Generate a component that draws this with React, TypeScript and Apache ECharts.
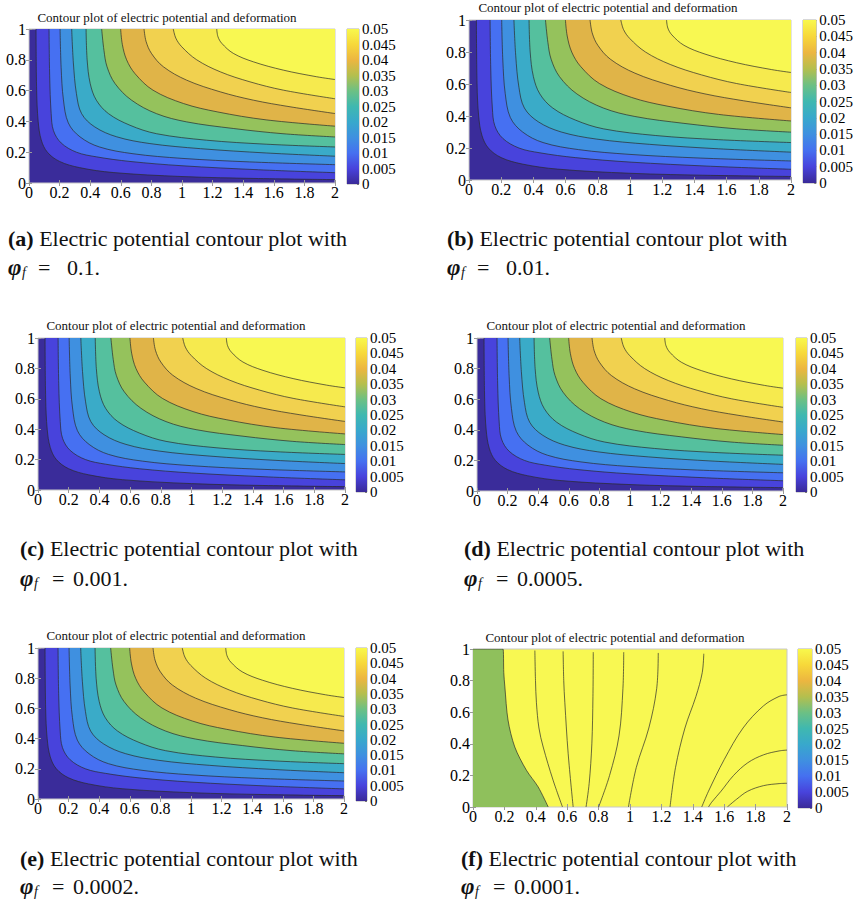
import React, { useEffect, useRef } from 'react';
import * as echarts from 'echarts';

// ---------- DATA ----------
const levels = [0.005, 0.01, 0.015, 0.02, 0.025, 0.03, 0.035, 0.04, 0.045, 0.05];
const bandColors = ['#3a2c9a', '#4843dc', '#4670f2', '#3f90e0', '#3aabc8', '#55c09e', '#95c25c', '#e0b448', '#f1d14f', '#f6ea4e', '#f8f852'];
const colorbarStops = ['#3a2a98', '#4843dc', '#4570f0', '#3f90e0', '#38a8cc', '#3fb8b0', '#6cc084', '#b4bf4e', '#ecb640', '#f7d83a', '#f8f84c'];

// contour lines (x, y) shared by panels a–e, one per level
const contour005 = [[0.046, 1], [0.05, 0.6], [0.06, 0.4], [0.08, 0.28], [0.12, 0.2], [0.2, 0.14], [0.33, 0.1], [0.55, 0.068], [1.0, 0.042], [1.5, 0.029], [2, 0.022]];
const contour010 = [[0.131, 1], [0.135, 0.7], [0.145, 0.45], [0.16, 0.34], [0.21, 0.26], [0.31, 0.2], [0.44, 0.17], [0.66, 0.14], [1.0, 0.112], [1.5, 0.086], [2, 0.067]];
const contour015 = [[0.203, 1], [0.21, 0.75], [0.225, 0.54], [0.257, 0.39], [0.333, 0.3], [0.46, 0.234], [0.68, 0.19], [1.0, 0.16], [1.44, 0.137], [2, 0.119]];
const contour020 = [[0.279, 1], [0.29, 0.78], [0.31, 0.58], [0.344, 0.45], [0.43, 0.364], [0.573, 0.3], [0.79, 0.256], [1.12, 0.223], [1.55, 0.195], [2, 0.174]];
const contour025 = [[0.373, 1], [0.38, 0.8], [0.4, 0.646], [0.44, 0.538], [0.52, 0.45], [0.66, 0.375], [0.834, 0.32], [1.16, 0.278], [1.55, 0.252], [2, 0.234]];
const contour030 = [[0.475, 1], [0.49, 0.86], [0.51, 0.755], [0.562, 0.646], [0.67, 0.538], [0.834, 0.45], [1.03, 0.397], [1.335, 0.354], [1.66, 0.32], [2, 0.299]];
const contour035 = [[0.599, 1], [0.61, 0.9], [0.638, 0.8], [0.693, 0.71], [0.81, 0.603], [1.01, 0.516], [1.23, 0.462], [1.55, 0.41], [2, 0.369]];
const contour040 = [[0.752, 1], [0.765, 0.92], [0.8, 0.842], [0.878, 0.755], [1.03, 0.668], [1.25, 0.592], [1.466, 0.538], [1.706, 0.495], [2, 0.451]];
const contour045 = [[0.943, 1], [0.96, 0.94], [0.998, 0.885], [1.096, 0.8], [1.25, 0.722], [1.444, 0.657], [1.662, 0.603], [2, 0.547]];
const contour050 = [[1.227, 1], [1.235, 0.95], [1.26, 0.907], [1.335, 0.842], [1.466, 0.787], [1.662, 0.733], [1.88, 0.69], [2, 0.672]];
const contoursAE = [contour005, contour010, contour015, contour020, contour025, contour030, contour035, contour040, contour045, contour050];

// panel f
const fGreenRegion = [[0, 1], [0.191, 1], [0.196, 0.85], [0.203, 0.76], [0.223, 0.55], [0.266, 0.38], [0.34, 0.233], [0.415, 0.127], [0.479, 0]];
const fLine1 = [[0.394, 0.99], [0.398, 0.8], [0.404, 0.66], [0.42, 0.5], [0.447, 0.38], [0.51, 0.17], [0.57, 0]];
const fLine2 = [[0.574, 0.985], [0.578, 0.8], [0.585, 0.66], [0.606, 0.34], [0.638, 0]];
const fLine3 = [[0.766, 0.98], [0.764, 0.7], [0.757, 0.4], [0.74, 0.15], [0.72, 0]];
const fLine4 = [[0.96, 0.98], [0.955, 0.75], [0.93, 0.45], [0.87, 0.2], [0.8, 0]];
const fLine5 = [[1.18, 0.975], [1.17, 0.75], [1.12, 0.5], [1.04, 0.25], [0.99, 0]];
const fLine6 = [[1.47, 0.97], [1.46, 0.85], [1.42, 0.7], [1.35, 0.5], [1.29, 0.25], [1.255, 0]];
const fLine7 = [[2, 0.71], [1.95, 0.7], [1.85, 0.64], [1.72, 0.5], [1.6, 0.3], [1.5, 0.1], [1.457, 0]];
const fLine8 = [[2, 0.36], [1.95, 0.355], [1.85, 0.33], [1.75, 0.28], [1.66, 0.2], [1.58, 0.1], [1.52, 0.03], [1.5, 0]];
const fLine9 = [[2, 0.15], [1.95, 0.148], [1.85, 0.135], [1.75, 0.1], [1.68, 0.05], [1.62, 0]];
const fLines = [fLine1, fLine2, fLine3, fLine4, fLine5, fLine6, fLine7, fLine8, fLine9];

const panelLetters = ['a', 'b', 'c', 'd', 'e', 'f'];
const phiValues = ['0.1', '0.01', '0.001', '0.0005', '0.0002', '0.0001'];
const titleText = 'Contour plot of electric potential and deformation';
const captionText = 'Electric potential contour plot with';

// ---------- LAYOUT ----------
// cap: [x, line1 y, line2 y, '=' offset, value offset]
const layout = [
  { plot: [29, 29, 335, 183], cbar: [347, 29, 359, 184], title: [167, 17], cap: [8, 238, 267, 30, 59] },
  { plot: [469, 20, 791, 180], cbar: [803, 20, 817, 183], title: [608, 7], cap: [447, 238, 267, 30, 59] },
  { plot: [38, 338, 345, 490], cbar: [356, 338, 367, 492], title: [176, 325], cap: [20, 548, 578, 32, 53] },
  { plot: [477, 338, 783, 491], cbar: [796, 338, 807, 492], title: [616, 325], cap: [464, 548, 578, 32, 53] },
  { plot: [38, 648, 344, 799], cbar: [356, 648, 367, 801], title: [176, 635], cap: [20, 858, 886, 32, 53] },
  { plot: [473, 649, 787, 807], cbar: [798, 649, 812, 808], title: [615, 637], cap: [461, 858, 886, 32, 53] },
];

const SERIF = '"Liberation Serif", "DejaVu Serif", serif';

export default function App() {
  const ref = useRef<HTMLDivElement>(null);
  useEffect(() => {
    if (!ref.current) return;
    const chart = echarts.init(ref.current, undefined, { renderer: 'svg' });
    const grid: any[] = [];
    const xAxis: any[] = [];
    const yAxis: any[] = [];
    const series: any[] = [];
    const graphic: any[] = [];
    const tickLabel = { fontFamily: SERIF, fontSize: 16, color: '#000' };
    const cbarLabel = { fontFamily: SERIF, fontSize: 15, color: '#000' };

    layout.forEach((L, p) => {
      const [l, t, r, b] = L.plot;
      const [cl, ct, cr, cb] = L.cbar;
      const isF = p === 5;
      grid.push({ left: l, top: t, width: r - l, height: b - t, show: true, borderColor: '#c8c8c8', borderWidth: 1, backgroundColor: isF ? bandColors[10] : bandColors[0] });
      grid.push({ left: cl, top: ct, width: cr - cl, height: cb - ct, show: true, borderColor: '#b0b0b0', borderWidth: 1, backgroundColor: 'transparent' });
      const gi = 2 * p;
      const common = { min: 0, type: 'value', splitLine: { show: false } };
      const tick = { show: true, inside: true, length: 3, lineStyle: { color: '#999' } };
      xAxis.push({ ...common, gridIndex: gi, max: 2, interval: 0.2, position: 'bottom', axisLine: { show: false }, axisTick: tick, axisLabel: { ...tickLabel, margin: 1, formatter: (v: number) => String(+v.toFixed(1)) } });
      xAxis.push({ ...common, gridIndex: gi, max: 2, interval: 0.2, position: 'top', axisLine: { show: false }, axisTick: tick, axisLabel: { show: false } });
      xAxis.push({ type: 'category', gridIndex: gi + 1, data: ['c'], show: false });
      yAxis.push({ ...common, gridIndex: gi, max: 1, interval: 0.2, position: 'left', axisLine: { show: false }, axisTick: tick, axisLabel: { ...tickLabel, margin: 3, formatter: (v: number) => String(+v.toFixed(1)) } });
      yAxis.push({ ...common, gridIndex: gi, max: 1, interval: 0.2, position: 'right', axisLine: { show: false }, axisTick: tick, axisLabel: { show: false } });
      yAxis.push({ ...common, gridIndex: gi + 1, max: 0.05, interval: 0.005, position: 'right', axisLine: { show: false }, axisTick: { show: true, inside: true, length: 2, lineStyle: { color: '#777' } }, axisLabel: { ...cbarLabel, margin: 3, formatter: (v: number) => String(+v.toFixed(3)) } });
      const xi = 3 * p;
      const yi = 3 * p;

      if (!isF) {
        contoursAE.forEach((c, k) => {
          series.push({
            type: 'line', xAxisIndex: xi, yAxisIndex: yi, data: c, name: 'level ' + levels[k],
            symbol: 'none', smooth: 0.35, silent: true,
            lineStyle: { color: '#2b2b2b', width: 0.7 },
            areaStyle: { color: bandColors[k + 1], opacity: 1, origin: 'end' },
          });
        });
      } else {
        series.push({
          type: 'line', xAxisIndex: xi, yAxisIndex: yi, data: fGreenRegion, symbol: 'none', smooth: 0.3, silent: true,
          lineStyle: { color: '#2b2b2b', width: 0.7 }, areaStyle: { color: '#8fc05c', opacity: 1, origin: 'start' },
        });
        fLines.forEach((c) => {
          series.push({ type: 'line', xAxisIndex: xi, yAxisIndex: yi, data: c, symbol: 'none', smooth: 0.35, silent: true, lineStyle: { color: '#2b2b2b', width: 0.7 } });
        });
      }
      // colorbar
      series.push({
        type: 'bar', xAxisIndex: xi + 2, yAxisIndex: yi + 2, data: [0.05], barWidth: '100%', silent: true,
        itemStyle: { color: new echarts.graphic.LinearGradient(0, 1, 0, 0, colorbarStops.map((c, i) => ({ offset: i / (colorbarStops.length - 1), color: c }))) },
      });

      // title
      graphic.push({ type: 'text', x: L.title[0], y: L.title[1], style: { text: titleText, fontFamily: SERIF, fontSize: 13, fill: '#111', align: 'center', verticalAlign: 'middle', textAlign: 'center', textVerticalAlign: 'middle' } });
      // caption
      const [cx, cy1, cy2, eqOff, valOff] = L.cap;
      graphic.push({ type: 'text', x: cx, y: cy1, style: { text: '{b|(' + panelLetters[p] + ')} ' + captionText, rich: { b: { fontWeight: 'bold', fontFamily: SERIF, fontSize: 22, fill: '#111' } }, fontFamily: SERIF, fontSize: 22, fill: '#111', verticalAlign: 'middle', textVerticalAlign: 'middle' } });
      graphic.push({ type: 'text', x: cx, y: cy2, style: { text: 'φ', fontFamily: SERIF, fontSize: 23, fontWeight: 'bold', fontStyle: 'italic', fill: '#111', verticalAlign: 'middle', textVerticalAlign: 'middle' } });
      graphic.push({ type: 'text', x: cx + 14, y: cy2 + 5, style: { text: 'f', fontFamily: SERIF, fontSize: 14, fontStyle: 'italic', fill: '#111', verticalAlign: 'middle', textVerticalAlign: 'middle' } });
      graphic.push({ type: 'text', x: cx + eqOff, y: cy2, style: { text: '=', fontFamily: SERIF, fontSize: 22, fill: '#111', verticalAlign: 'middle', textVerticalAlign: 'middle' } });
      graphic.push({ type: 'text', x: cx + valOff, y: cy2, style: { text: phiValues[p] + '.', fontFamily: SERIF, fontSize: 22, fill: '#111', verticalAlign: 'middle', textVerticalAlign: 'middle' } });
    });

    chart.setOption({ animation: false, backgroundColor: '#ffffff', grid, xAxis, yAxis, series, graphic });
    return () => chart.dispose();
  }, []);
  return <div ref={ref} style={{ position: 'absolute', left: 0, top: 0, width: 856, height: 900 }} />;
}
